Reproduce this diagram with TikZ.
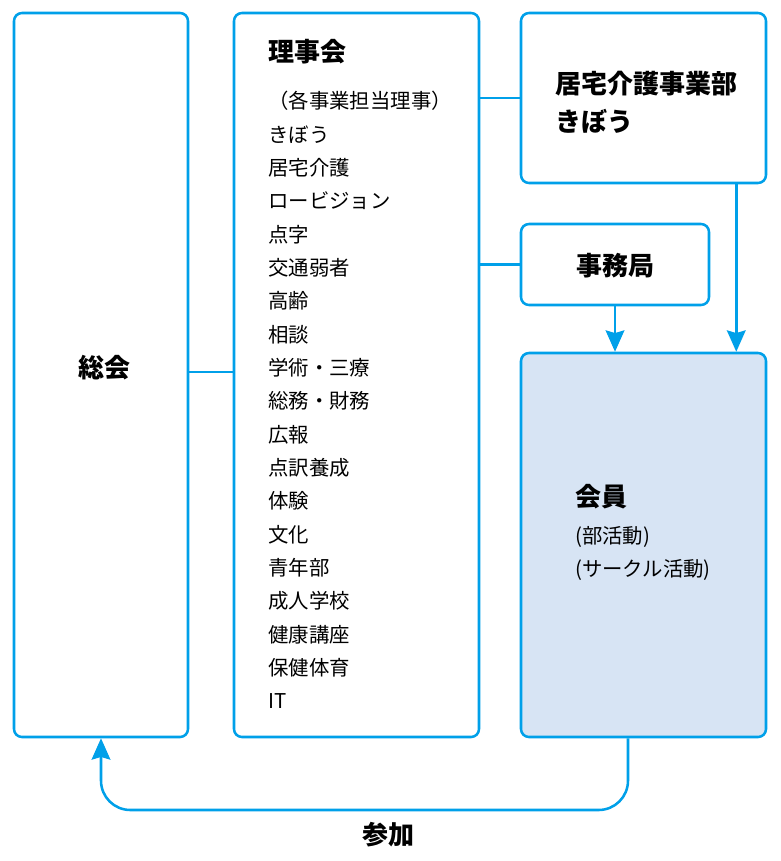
\documentclass[tikz,border=0pt]{standalone}
\usepackage{fontspec}
\newfontfamily\jp{Noto Sans CJK JP}
\usetikzlibrary{arrows.meta,calc}
\definecolor{lineblue}{RGB}{0,160,233}
\definecolor{memfill}{RGB}{215,228,244}
\begin{document}
\begin{tikzpicture}[x=0.75pt,y=-0.75pt,
  box/.style={draw=lineblue,line width=1.9pt,rounded corners=6pt,rectangle,inner sep=0pt},
  conn/.style={draw=lineblue,line width=1.9pt},
  arr/.style={conn,-{Stealth[width=14pt,length=16pt,inset=2pt]}},
  title/.style={font=\jp\bfseries\fontsize{19.5pt}{22pt}\selectfont,anchor=west,inner sep=0pt},
  item/.style={font=\jp\fontsize{15.3pt}{18pt}\selectfont,anchor=west,inner sep=0pt}]
\useasboundingbox (0,0) rectangle (781,861);
\fill[white] (0,0) rectangle (781,861);
% boxes
\node[box,minimum width=174*0.75pt,minimum height=724*0.75pt] (soukai) at (101,375) {};
\node[box,minimum width=245*0.75pt,minimum height=724*0.75pt] (rijikai) at (356.5,375) {};
\node[box,minimum width=245*0.75pt,minimum height=170*0.75pt] (kyotaku) at (643.5,98) {};
\node[box,minimum width=188*0.75pt,minimum height=81*0.75pt] (jimu) at (615,264.5) {};
\node[box,fill=memfill,minimum width=245*0.75pt,minimum height=384*0.75pt] (kaiin) at (643.5,545) {};
% connectors
\coordinate (sy) at (0,372);
\draw[conn] (soukai.east |- sy) -- (rijikai.west |- sy);
\draw[conn] (rijikai.east |- kyotaku.west) -- (kyotaku.west);
\draw[conn] (rijikai.east |- jimu.west) -- (jimu.west);
\draw[arr] (jimu.south) -- (jimu.south |- kaiin.north);
\coordinate (ks) at ($(kyotaku.south east)+(-31,0)$);
\draw[arr] (ks) -- (ks |- kaiin.north);
\coordinate (kb) at ($(kaiin.south)+(-15.5,0)$);
\coordinate (lowy) at (0,810);
\draw[arr,rounded corners=22pt] (kb) -- (kb |- lowy) -- (soukai.south |- lowy) -- (soukai.south);
% texts
\node[title,anchor=center] (tsoukai) at (104,368) {総会};
\node[title] (trijikai) at (268,52) {理事会};
\node[title] (tkyotaku1) at (555,84) {居宅介護事業部};
\node[title] (tkyotaku2) at (555,121) {きぼう};
\node[title,anchor=center] (tjimu) at (615,266) {事務局};
\node[title] (tkaiin) at (575,497) {会員};
\node[item] (k1) at (575,537) {(部活動)};
\node[item] (k2) at (575,570) {(サークル活動)};
\node[title,anchor=center] (tsanka) at (388,835) {参加};
\foreach \t [count=\i from 0] in {（各事業担当理事）,きぼう,居宅介護,ロービジョン,点字,交通弱者,高齢,相談,学術・三療,総務・財務,広報,点訳養成,体験,文化,青年部,成人学校,健康講座,保健体育,IT}
  \node[item] (r\i) at (268,101+\i*33.33) {\t};
\end{tikzpicture}
\end{document}
